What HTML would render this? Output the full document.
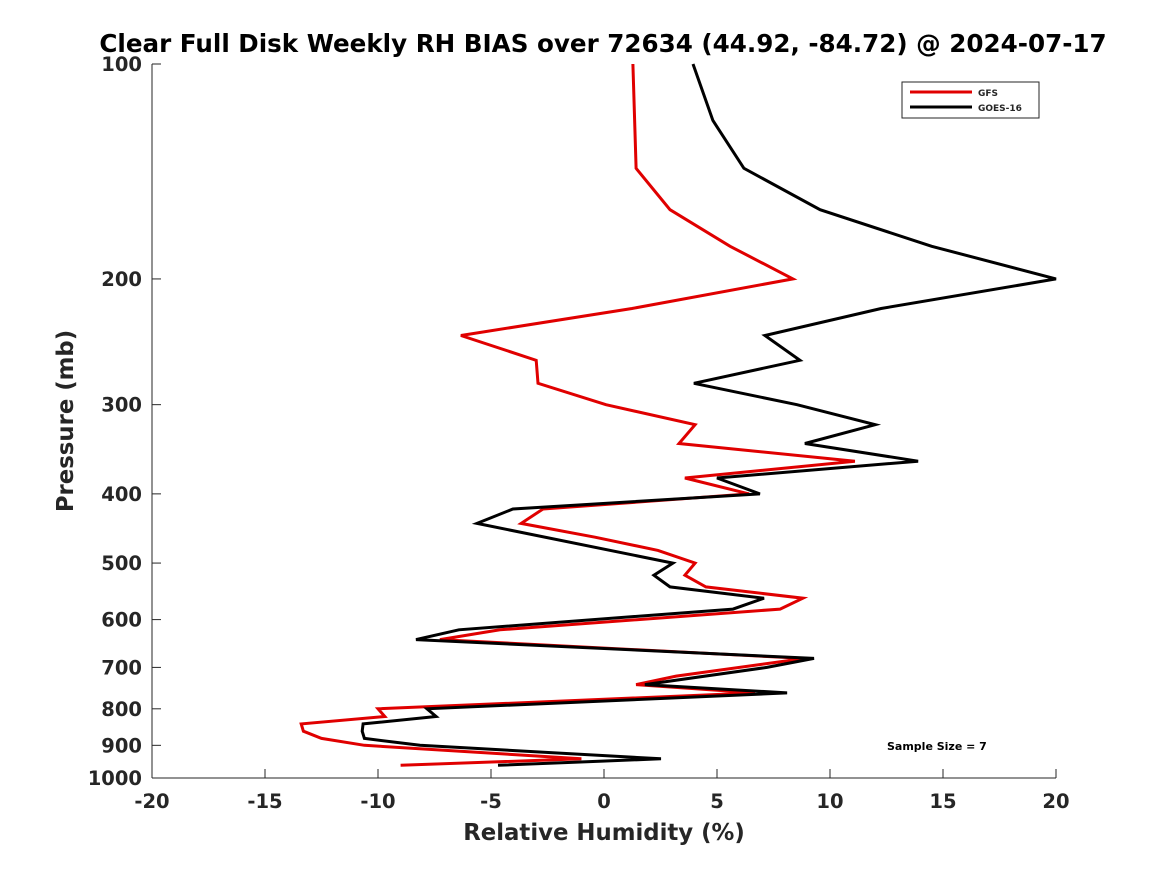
<!DOCTYPE html>
<html><head><meta charset="utf-8"><style>
body{margin:0;background:#fff;}
svg{display:block;font-family:"DejaVu Sans","Liberation Sans",sans-serif;font-weight:bold;}
</style></head><body>
<svg id="chart" width="1167" height="875" viewBox="0 0 1167 875">
<rect width="1167" height="875" fill="#fff"/>
<text x="603" y="52" font-size="24.6" text-anchor="middle" fill="#000">Clear Full Disk Weekly RH BIAS over 72634 (44.92, -84.72) @ 2024-07-17</text>
<g id="axes"></g>
<g id="series"></g>
<text x="604" y="840" font-size="22.8" text-anchor="middle" fill="#262626">Relative Humidity (%)</text>
<text transform="translate(73,421) rotate(-90)" font-size="22.8" text-anchor="middle" fill="#262626">Pressure (mb)</text>
<g>
<rect x="902" y="82" width="137" height="36" fill="#fff" stroke="#262626" stroke-width="1"/>
<line x1="910" y1="92" x2="972" y2="92" stroke="#e00000" stroke-width="3"/>
<text x="978" y="96" font-size="9" fill="#262626">GFS</text>
<line x1="910" y1="107" x2="972" y2="107" stroke="#000" stroke-width="3"/>
<text x="978" y="111" font-size="9" fill="#262626">GOES-16</text>
</g>
<text x="887" y="750" font-size="11" fill="#000">Sample Size = 7</text>
</svg>
<script>
const xTicks=[-20,-15,-10,-5,0,5,10,15,20];
const yTicks=[100,200,300,400,500,600,700,800,900,1000];
const gfsP=[100,140,160,180,200,220,240,260,280,300,320,340,360,380,400,420,440,460,480,500,520,540,560,580,620,640,680,720,740,760,800,820,840,860,880,900,940,960];
const gfsV=[1.28,1.42,2.92,5.58,8.36,1.24,-6.33,-3.0,-2.92,0.09,4.03,3.32,11.1,3.58,6.42,-2.7,-3.67,-0.4,2.39,4.03,3.58,4.51,8.8,7.79,-4.6,-7.26,8.89,3.19,1.42,6.68,-10.0,-9.7,-13.4,-13.3,-12.5,-10.6,-1.0,-9.0];
const goesP=[100,120,140,160,180,200,220,240,260,280,300,320,340,360,380,400,420,440,500,520,540,560,580,620,640,680,700,740,760,800,820,840,860,880,900,940,960];
const goesV=[3.94,4.82,6.19,9.56,14.5,20.0,12.26,7.12,8.67,3.98,8.54,12.0,8.89,13.9,5.0,6.9,-4.03,-5.62,3.05,2.21,2.92,7.08,5.71,-6.42,-8.32,9.29,7.21,1.81,8.1,-7.83,-7.43,-10.66,-10.7,-10.6,-8.14,2.52,-4.69];
const X0=152,X1=1056,Y0=64,Y1=778;
const xs=v=>X0+(v+20)/40*(X1-X0);
const ys=p=>Y0+Math.log10(p/100)*(Y1-Y0);
const NS="http://www.w3.org/2000/svg";
const ax=document.getElementById('axes');
function mk(tag,attrs,parent){const e=document.createElementNS(NS,tag);for(const k in attrs)e.setAttribute(k,attrs[k]);parent.appendChild(e);return e;}
const yl=mk('line',{x1:X0,y1:Y0,x2:X0,y2:Y1,stroke:'#262626','stroke-width':1},ax);


const xl=mk('line',{x1:X0,y1:Y1,x2:X1,y2:Y1,stroke:'#262626','stroke-width':1},ax);


xTicks.forEach(v=>{
 const t=mk('line',{x1:xs(v),y1:Y1,x2:xs(v),y2:Y1-9,stroke:'#262626'},ax);
 
 
 const l=mk('text',{x:xs(v),y:808,'font-size':19.5,'text-anchor':'middle',fill:'#262626'},ax);
 l.textContent=v;
 
 
});
yTicks.forEach(p=>{
 const t=mk('line',{x1:X0,y1:ys(p),x2:X0+9,y2:ys(p),stroke:'#262626'},ax);
 
 
 const l=mk('text',{x:142,y:ys(p)+7,'font-size':19.5,'text-anchor':'end',fill:'#262626'},ax);
 l.textContent=p;
 
 
});
const sg=document.getElementById('series');
function line(P,V,color,name){
 const pts=P.map((p,i)=>xs(V[i]).toFixed(1)+','+ys(p).toFixed(1)).join(' ');
 const e=mk('polyline',{points:pts,fill:'none',stroke:color,'stroke-width':3,'stroke-linejoin':'miter'},sg);
 
 
}
line(gfsP,gfsV,'#e00000','gfs-line');
line(goesP,goesV,'#000','goes16-line');
</script>
</body></html>
